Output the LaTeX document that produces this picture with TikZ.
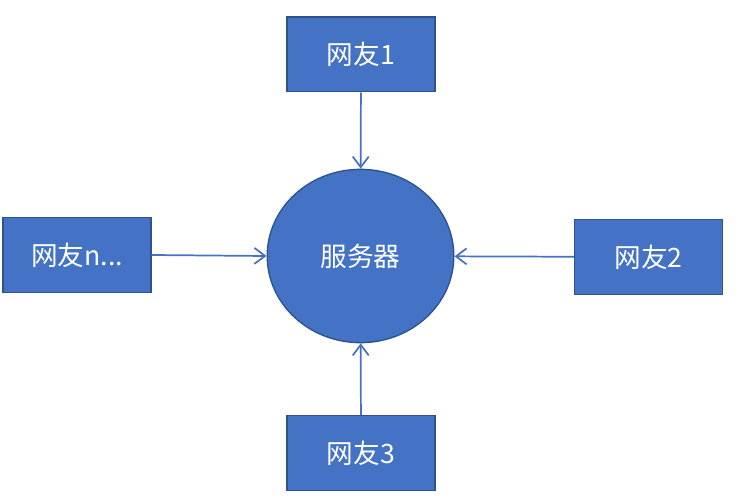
\documentclass[tikz,border=0pt]{standalone}
\usepackage{fontspec}
\setmainfont{Noto Sans CJK SC}
\usetikzlibrary{
    arrows.meta,
    shapes.geometric
}
\definecolor{boxblue}{HTML}{4472C4}
\definecolor{edgeblue}{HTML}{2F528F}
\tikzset {
    user/.style = {
        draw = edgeblue, fill = boxblue, line width = 1pt,
        minimum width = 111pt, minimum height = 56pt,
        inner sep = 0pt, text = white,
        font = \fontsize{20pt}{24pt}\selectfont
    },
    server/.style = {
        ellipse, draw = edgeblue, fill = boxblue, line width = 1pt,
        minimum width = 140pt, minimum height = 130pt,
        inner sep = 0pt, text = white,
        font = \fontsize{20pt}{24pt}\selectfont
    },
    link/.style = {
        draw = boxblue, line width = 1.3pt,
        arrows = {-Straight Barb[length = 8pt, width = 12pt]}
    }
}
\begin{document}
\begin{tikzpicture}[x = 0.75pt, y = -0.75pt]
            \useasboundingbox (0, 0) rectangle (737, 499);
            \node (s) [server] at (360.5, 256) {服务器};
            \node (u1) [user] at (361, 54.5) {网友1};
            \node (u2) [user] at (648.5, 257) {网友2};
            \node (u3) [user] at (361, 453) {网友3};
            \node (un) [user] at (77, 255) {网友n...};
            \draw [link] (u1) -- (s);
            \draw [link] (u2) -- (s);
            \draw [link] (u3) -- (s);
            \draw [link] (un.east) -- (s.west);
        \end{tikzpicture}
\end{document}
